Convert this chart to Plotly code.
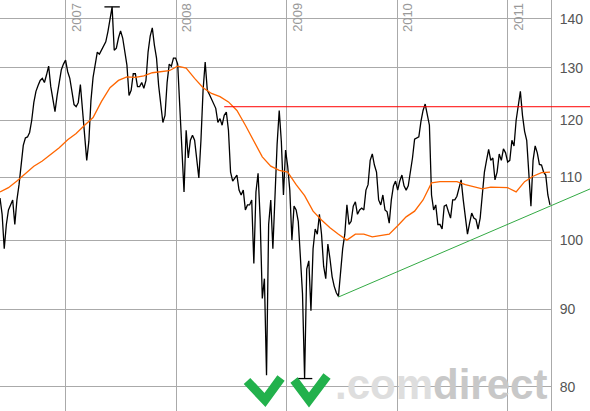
import numpy as np
import pandas as pd
import plotly.graph_objects as go

# ---------------- data (weekly closes) ----------------
start_date = "2006-05-28"
close = [
    106.6, 104.0, 98.7, 102.4, 104.7, 105.5, 106.3, 102.4, 106.3, 108.8,
    112.1, 115.5, 116.8, 117.0, 117.8, 120.0, 123.3, 125.4, 126.5, 127.5,
    127.9, 127.1, 128.6, 130.3, 126.3, 123.7, 121.6, 124.6, 126.7, 129.6,
    130.7, 131.5, 129.2, 127.9, 125.4, 122.9, 122.5, 123.3, 126.7, 121.8,
    117.8, 112.9, 116.2, 123.7, 128.1, 130.5, 133.1, 132.7, 133.5, 134.3,
    135.2, 137.3, 139.8, 142.6, 133.5, 133.9, 136.0, 137.5, 136.0, 132.7,
    130.5, 124.6, 125.6, 128.8, 128.8, 126.3, 126.3, 127.1, 126.0, 127.5,
    133.1, 136.4, 138.1, 134.5, 131.9, 126.5, 123.3, 119.6, 120.9, 127.1,
    130.7, 130.3, 131.9, 131.9, 130.7, 122.8, 114.7, 107.6, 118.2, 113.3,
    116.4, 117.3, 116.4, 112.9, 109.9, 116.4, 125.6, 131.1, 125.6, 124.8,
    124.0, 123.3, 122.2, 119.6, 120.3, 119.1, 120.9, 121.5, 118.2, 110.9,
    109.4, 109.9, 110.4, 107.9, 107.1, 107.9, 104.7, 105.5, 105.5, 106.3,
    96.5, 107.6, 110.7, 103.2, 91.5, 94.3, 81.4, 102.4, 106.3, 98.7,
    106.9, 115.7, 121.8, 116.2, 107.1, 114.7, 111.9, 107.9, 100.0, 105.3,
    104.7, 102.9, 97.5, 92.2, 81.0, 95.7, 96.9, 89.8, 98.7, 101.7,
    100.9, 104.0, 100.9, 96.1, 94.3, 99.4, 97.2, 94.6, 93.2, 92.3,
    91.8, 95.5, 98.7, 100.9, 105.5, 102.4, 102.9, 105.3, 106.0, 104.0,
    104.7, 105.0, 104.7, 107.9, 108.8, 112.9, 114.0, 112.1, 110.9, 106.3,
    105.5, 107.1, 104.7, 104.4, 102.6, 106.3, 108.6, 109.4, 107.9, 109.4,
    110.4, 108.6, 107.9, 108.6, 110.9, 113.3, 116.6, 116.8, 117.0, 119.8,
    121.8, 123.0, 121.3, 119.1, 107.1, 104.7, 105.5, 102.4, 102.4, 101.7,
    105.3, 105.5, 104.4, 103.4, 106.3, 106.3, 106.9, 108.3, 109.6, 106.3,
    103.4, 100.9, 102.6, 104.2, 103.4, 103.2, 101.7, 103.4, 107.1, 110.9,
    112.9, 114.8, 112.9, 113.3, 109.6, 110.9, 114.0, 112.9, 114.9, 114.2,
    112.6, 112.9, 116.4, 115.4, 120.0, 122.5, 125.4, 120.9, 118.0, 116.4,
    109.6, 105.3, 112.9, 115.4, 114.2, 112.2, 112.1, 110.9, 110.4, 107.1,
    105.5,
]
# moving average, one value every 4 weeks
moving_avg = [
    107.6, 108.3, 109.4, 110.7, 111.9, 112.8, 113.9, 115.1, 116.5, 117.6,
    119.1, 120.5, 123.5, 126.1, 127.5, 128.2, 128.1, 128.4, 129.0, 129.2,
    129.4, 130.3, 129.9, 127.9, 126.1, 125.0, 124.4, 123.4, 121.8, 119.1,
    116.4, 113.5, 111.9, 111.2, 110.9, 108.8, 107.0, 104.5, 103.1, 101.9,
    100.9, 100.0, 100.9, 100.9, 100.5, 100.7, 100.9, 102.2, 103.6, 104.5,
    106.3, 109.1, 109.3, 109.3, 109.3, 108.8, 108.4, 108.1, 108.4, 108.4,
    108.3, 107.6, 109.3, 110.2, 110.8, 110.9,
]
resistance_level = 122.5
resistance_start_week = 106
trend_weeks = [160, 260]
trend_values = [91.7, 105.3]
y_ticks = [80, 90, 100, 110, 120, 130, 140]
y_tick_labels = ["80", "90", "100", "110", "120", "130", "140"]
years = [2007, 2008, 2009, 2010, 2011]

# ---------------- figure ----------------
W, H = 590, 411
MR = 39
PW = W - MR
x_range = [pd.Timestamp("2006-05-28"), pd.Timestamp("2011-05-25 09:00")]
y_range = [77.1, 144.1]

dates = pd.date_range(start_date, periods=len(close), freq="W-SUN")
ma_dates = dates[::4][: len(moving_avg)]


def frac(t):
    return (t - x_range[0]) / (x_range[1] - x_range[0])


FONT = "Liberation Sans, Arial, sans-serif"
fig = go.Figure()
fig.add_trace(go.Scatter(x=dates, y=close, mode="lines",
                         line=dict(color="black", width=1.3), hoverinfo="skip"))
fig.add_trace(go.Scatter(x=ma_dates, y=moving_avg, mode="lines",
                         line=dict(color="#ff6600", width=1.3), hoverinfo="skip"))
imax = int(np.argmax(close))
imin = int(np.argmin(close))
fig.add_trace(go.Scatter(x=[dates[imax], dates[imin]], y=[close[imax], close[imin]],
                         mode="markers",
                         marker=dict(symbol="line-ew", size=11,
                                     line=dict(color="black", width=1.3)),
                         hoverinfo="skip"))

x_end = 1 + MR / PW
shapes = []
# resistance line
shapes.append(dict(type="line", xref="paper", yref="y",
                   x0=frac(dates[resistance_start_week]), x1=x_end,
                   y0=resistance_level, y1=resistance_level,
                   line=dict(color="#ff0000", width=1)))
# trend line (straight in log space)
t0, t1 = dates[trend_weeks[0]], dates[trend_weeks[1]]
l0, l1 = np.log(trend_values[0]), np.log(trend_values[1])
t_end = x_range[0] + x_end * (x_range[1] - x_range[0])
v_end = float(np.exp(l0 + (l1 - l0) * ((t_end - t0) / (t1 - t0))))
shapes.append(dict(type="line", xref="paper", yref="y",
                   x0=frac(t0), x1=x_end, y0=trend_values[0], y1=v_end,
                   line=dict(color="#33aa44", width=1)))


# logo checkmarks (decoration, pixel positions)
def P(px, py):
    return f"{px / PW:.5f},{1 - py / H:.5f}"


for (a, b, c) in [((247, 381), (265, 400), (281, 378)),
                  ((294, 380), (309, 400), (327, 376))]:
    shapes.append(dict(type="path", xref="paper", yref="paper",
                       path=f"M {P(*a)} L {P(*b)} L {P(*c)}",
                       line=dict(color="#22b14c", width=9)))

annotations = []
for yr in years:
    annotations.append(dict(text=str(yr), x=f"{yr}-01-01", xref="x", y=1, yref="paper",
                            textangle=-90, xanchor="left", yanchor="top",
                            xshift=1, yshift=-1, showarrow=False,
                            font=dict(size=13, color="#999999", family=FONT)))
annotations.append(dict(
    text='<span style="color:#dedede">.com</span><span style="color:#c8c8c8">direct</span>',
    x=333 / PW, xref="paper", y=1 - 410 / H, yref="paper",
    xanchor="left", yanchor="bottom", showarrow=False,
    font=dict(size=42, family=FONT, weight="bold")))

fig.update_layout(
    width=W, height=H, autosize=False,
    margin=dict(l=0, r=MR, t=0, b=0, pad=0),
    paper_bgcolor="white", plot_bgcolor="white",
    showlegend=False, hovermode=False,
    shapes=shapes, annotations=annotations,
    xaxis=dict(type="date", range=x_range, showgrid=True, gridcolor="#aaaaaa",
               gridwidth=1, tickvals=[f"{y}-01-01" for y in years],
               showticklabels=False, ticks="", zeroline=False, showline=False),
    yaxis=dict(type="log", range=[np.log10(y_range[0]), np.log10(y_range[1])],
               side="right", tickvals=y_ticks, ticktext=y_tick_labels,
               gridcolor="#aaaaaa", gridwidth=1, showline=True, linecolor="#aaaaaa",
               linewidth=1, ticks="", zeroline=False, ticklabelstandoff=5,
               tickfont=dict(size=14, color="#555555", family=FONT)),
)
fig.write_html("out.html", config={"displayModeBar": False, "staticPlot": True},
               post_script="document.body.style.margin='0px';document.body.style.padding='0px';")
